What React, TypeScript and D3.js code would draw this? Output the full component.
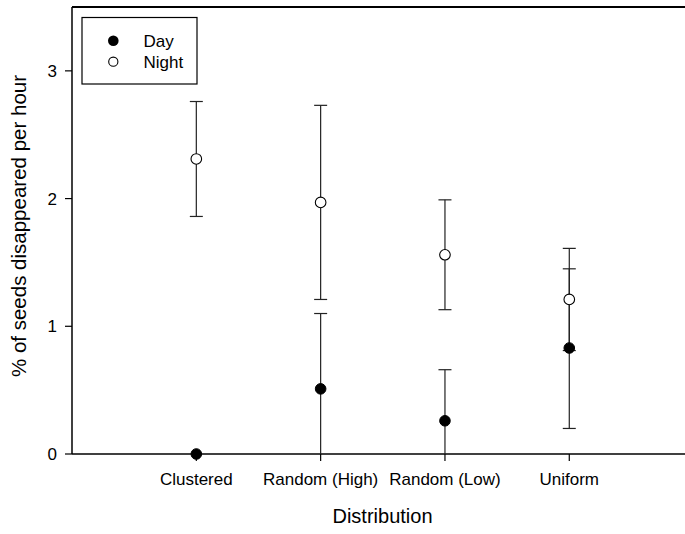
import React from "react";
import * as d3 from "d3";

const categories = ["Clustered", "Random (High)", "Random (Low)", "Uniform"];
const dayMean = [0.0, 0.51, 0.26, 0.83];
const dayLow = [0.0, 0.0, 0.0, 0.2];
const dayHigh = [0.0, 1.1, 0.66, 1.45];
const nightMean = [2.31, 1.97, 1.56, 1.21];
const nightLow = [1.86, 1.21, 1.13, 0.81];
const nightHigh = [2.76, 2.73, 1.99, 1.61];
const yTicks = [0, 1, 2, 3];

const W = 685;
const H = 534;
const left = 72;
const top = 7;
const bottom = 454;
const rightEdge = 693.6;
const font = "'Liberation Sans', Arial, Helvetica, sans-serif";

export default function App() {
  const x = d3.scaleLinear().domain([0, 5]).range([left, rightEdge]);
  const y = d3.scaleLinear().domain([0, 3.5]).range([bottom, top]);
  const cap = 6.5;
  const r = 5.3;

  const errBar = (i: number, lo: number, hi: number, key: string) => {
    if (hi === lo) return null;
    const cx = x(i + 1);
    return (
      <g key={key} stroke="#222" strokeWidth={1.2}>
        <line x1={cx} x2={cx} y1={y(lo)} y2={y(hi)} />
        <line x1={cx - cap} x2={cx + cap} y1={y(hi)} y2={y(hi)} />
        {lo > 0 && <line x1={cx - cap} x2={cx + cap} y1={y(lo)} y2={y(lo)} />}
      </g>
    );
  };

  return (
    <svg
      width={W}
      height={H}
      style={{ position: "absolute", left: 0, top: 0, background: "#fff" }}
      fontFamily={font}
    >
      <rect x={0} y={0} width={W} height={H} fill="#fff" />
      {/* frame */}
      <line x1={left} x2={W} y1={top} y2={top} stroke="#000" strokeWidth={2} />
      <line x1={left} x2={left} y1={top} y2={bottom} stroke="#000" strokeWidth={1.5} />
      <line x1={left} x2={W} y1={bottom} y2={bottom} stroke="#000" strokeWidth={1.5} />

      {/* y ticks */}
      {yTicks.map((t) => (
        <g key={"yt" + t}>
          <line x1={left - 7} x2={left} y1={y(t)} y2={y(t)} stroke="#000" strokeWidth={1.2} />
          <text x={left - 15} y={y(t)} dy="0.36em" textAnchor="end" fontSize={17} fill="#000">
            {t}
          </text>
        </g>
      ))}

      {/* x ticks */}
      {categories.map((c, i) => (
        <g key={"xt" + c}>
          <line x1={x(i + 1)} x2={x(i + 1)} y1={bottom} y2={bottom + 7} stroke="#000" strokeWidth={1.2} />
          <text x={x(i + 1)} y={485} textAnchor="middle" fontSize={17} fill="#000">
            {c}
          </text>
        </g>
      ))}

      {/* error bars */}
      {categories.map((c, i) => errBar(i, nightLow[i], nightHigh[i], "ne" + i))}
      {categories.map((c, i) => errBar(i, dayLow[i], dayHigh[i], "de" + i))}

      {/* points */}
      {categories.map((c, i) => (
        <circle key={"np" + i} cx={x(i + 1)} cy={y(nightMean[i])} r={r} fill="#fff" stroke="#000" strokeWidth={1.1} />
      ))}
      {categories.map((c, i) => (
        <circle key={"dp" + i} cx={x(i + 1)} cy={y(dayMean[i])} r={r} fill="#000" stroke="#000" strokeWidth={1} />
      ))}

      {/* legend */}
      <rect x={82} y={17.5} width={115} height={66.5} fill="#fff" stroke="#000" strokeWidth={1.2} />
      <circle cx={113.3} cy={40.7} r={r} fill="#000" />
      <circle cx={113.3} cy={61.7} r={4.6} fill="#fff" stroke="#000" strokeWidth={1.1} />
      <text x={143.5} y={40.7} dy="0.36em" fontSize={17} fill="#000">Day</text>
      <text x={143.5} y={61.7} dy="0.36em" fontSize={17} fill="#000">Night</text>

      {/* axis titles */}
      <text x={382.5} y={523} textAnchor="middle" fontSize={20} fill="#000">Distribution</text>
      <text
        transform={`translate(26, 226) rotate(-90)`}
        textAnchor="middle"
        fontSize={20.5}
        fill="#000"
      >
        % of seeds disappeared per hour
      </text>
    </svg>
  );
}
